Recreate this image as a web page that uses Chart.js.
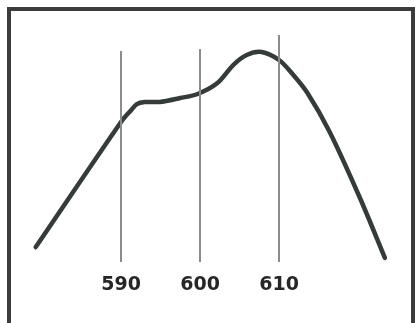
<!DOCTYPE html>
<html>
<head>
<meta charset="utf-8">
<script src="https://cdn.jsdelivr.net/npm/chart.js@4"></script>
<style>
  html, body { margin: 0; padding: 0; background: #fff; }
  #wrap { width: 416px; height: 323px; position: relative; }
</style>
</head>
<body>
<div id="wrap"><canvas id="spectrum"></canvas></div>
<script>
// spectrum curve, wavelength (nm) vs relative intensity
const wavelengths = [579.2, 590.0, 591.3, 592.0, 593.0, 594.9, 597.5, 599.7, 602.2,
                     604.2, 605.9, 607.8, 610.0, 611.6, 613.6, 616.4, 620.3, 623.4];
const intensity   = [7.1, 66.7, 72.4, 75.2, 76.2, 76.2, 78.1, 80.0, 85.2,
                     93.8, 98.6, 100, 96.2, 90.0, 80.5, 62.0, 30.0, 2.0];

// reference marker lines and their tick labels
const markerWaves = [590, 600, 610];
const markerTops  = [100.5, 101.4, 108.1];
const tickLabels  = ['590', '600', '610'];

// white page + the drawn frame around the figure
const framePlugin = {
    id: 'frame',
    beforeDraw(chart) {
        const ctx = chart.ctx;
        ctx.save();
        ctx.fillStyle = '#ffffff';
        ctx.fillRect(0, 0, chart.width, chart.height);
        ctx.restore();
    },
    afterDraw(chart) {
        const ctx = chart.ctx;
        ctx.save();
        ctx.strokeStyle = '#3b3d3c';
        ctx.lineWidth = 4;
        ctx.strokeRect(9, 9, 404, 318);
        ctx.restore();
    }
};

const markerSets = markerWaves.map((w, i) => ({
    data: [{x: w, y: 0}, {x: w, y: markerTops[i]}],
    borderColor: '#8c8c8c',
    borderWidth: 2,
    pointRadius: 0,
    tension: 0
}));

new Chart(document.getElementById('spectrum'), {
    type: 'line',
    data: {
        datasets: [
            ...markerSets,
            {
                data: wavelengths.map((w, i) => ({x: w, y: intensity[i]})),
                borderColor: '#353b39',
                borderWidth: 4.5,
                borderCapStyle: 'round',
                borderJoinStyle: 'round',
                pointRadius: 0,
                tension: 0.3,
                clip: false
            }
        ]
    },
    options: {
        responsive: true,
        maintainAspectRatio: false,
        animation: false,
        events: [],
        layout: { padding: 0 },
        plugins: { legend: { display: false }, tooltip: { enabled: false } },
        scales: {
            x: {
                type: 'linear',
                min: 574.68,
                max: 627.34,
                grid: { display: false, drawTicks: false },
                border: { display: false },
                afterBuildTicks: s => { s.ticks = markerWaves.map(v => ({value: v})); },
                afterFit: s => { s.height = 61; },
                ticks: {
                    padding: 12,
                    color: '#262626',
                    font: { family: 'DejaVu Sans', size: 19, weight: 'bold' },
                    callback: (v) => tickLabels[markerWaves.indexOf(v)]
                }
            },
            y: {
                display: false,
                min: 0,
                max: 124.76
            }
        }
    },
    plugins: [framePlugin]
});
</script>
</body>
</html>
